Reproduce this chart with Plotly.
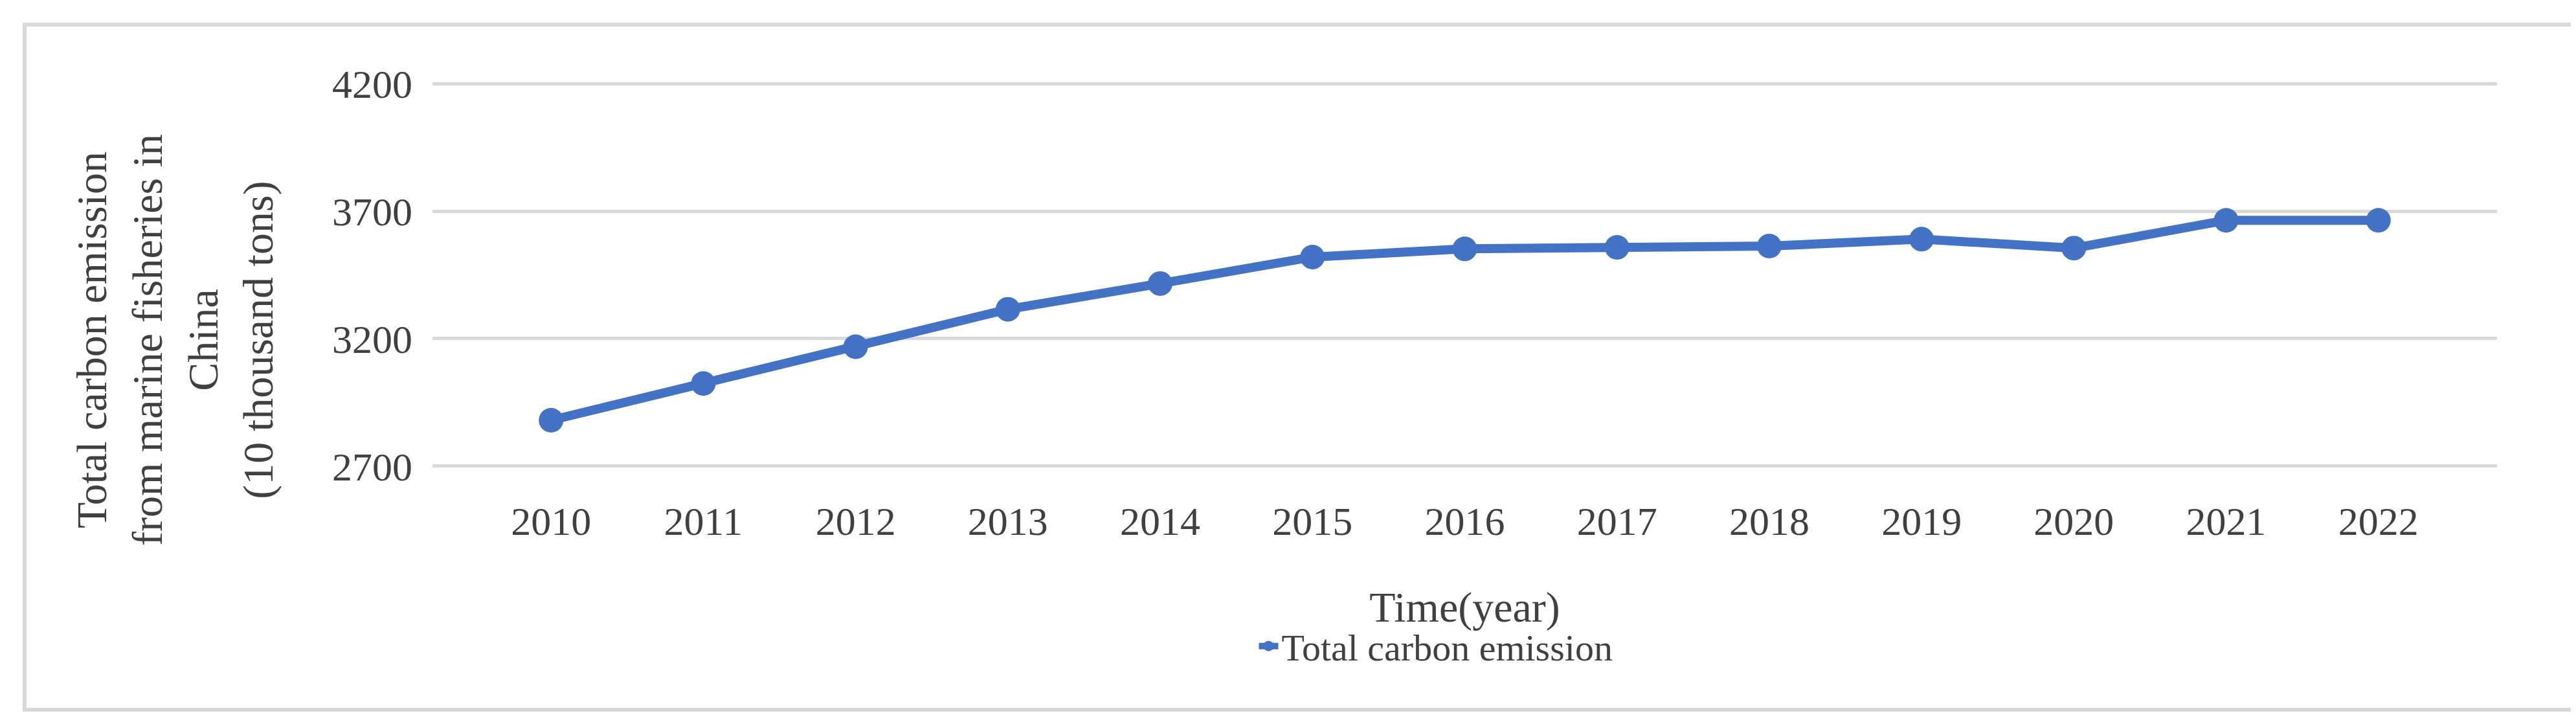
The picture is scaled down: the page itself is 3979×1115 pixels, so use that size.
import plotly.graph_objects as go

years = ['2010', '2011', '2012', '2013', '2014', '2015', '2016',
         '2017', '2018', '2019', '2020', '2021', '2022']
emission = [2880, 3024, 3168, 3315, 3416, 3520, 3552,
            3558, 3563, 3590, 3555, 3664, 3664]
y_ticks = [2700, 3200, 3700, 4200]

W, H = 3979, 1115
L, R, T, B = 660, 130, 118, 400
pw, ph = W - L - R, H - T - B


def px(x):
    return (x - L) / pw


def py(y):
    return (H - B - y) / ph


fig = go.Figure()
fig.add_trace(go.Scatter(
    x=years, y=emission, mode='lines+markers', name='Total carbon emission',
    line=dict(color='#4472C4', width=14),
    marker=dict(color='#4472C4', size=38),
))

font = 'Liberation Serif, Times New Roman, serif'
fig.update_layout(
    width=W, height=H,
    margin=dict(l=L, r=R, t=T, b=B, autoexpand=False),
    paper_bgcolor='white', plot_bgcolor='white',
    font=dict(family=font, color='#404040', size=58),
    showlegend=True,
    legend=dict(orientation='h', x=px(2210), y=py(990), xanchor='center', yanchor='middle',
                font=dict(size=58, color='#404040')),
    xaxis=dict(type='category', showgrid=False, zeroline=False, showline=False,
               ticks='', tickfont=dict(size=62), ticklabelstandoff=40, automargin=False,
               title=dict(text='Time(year)', font=dict(size=66), standoff=75)),
    yaxis=dict(range=[2692, 4208], tickvals=y_ticks, showgrid=True, gridcolor='#d9d9d9',
               gridwidth=5, zeroline=False, showline=False, ticks='', automargin=False,
               tickfont=dict(size=62), ticklabelstandoff=30),
    shapes=[dict(type='rect', xref='paper', yref='paper',
                 x0=px(30), x1=px(3968), y0=py(1088), y1=py(30),
                 line=dict(color='#d9d9d9', width=6))],
    annotations=[dict(
        text='Total carbon emission<br>from marine fisheries in<br>China<br>(10 thousand tons)',
        xref='paper', yref='paper', x=px(262), y=py(517), textangle=-90,
        xanchor='center', yanchor='middle',
        showarrow=False, font=dict(size=66, color='#404040'), align='center')],
)

fig.write_html('out.html')
